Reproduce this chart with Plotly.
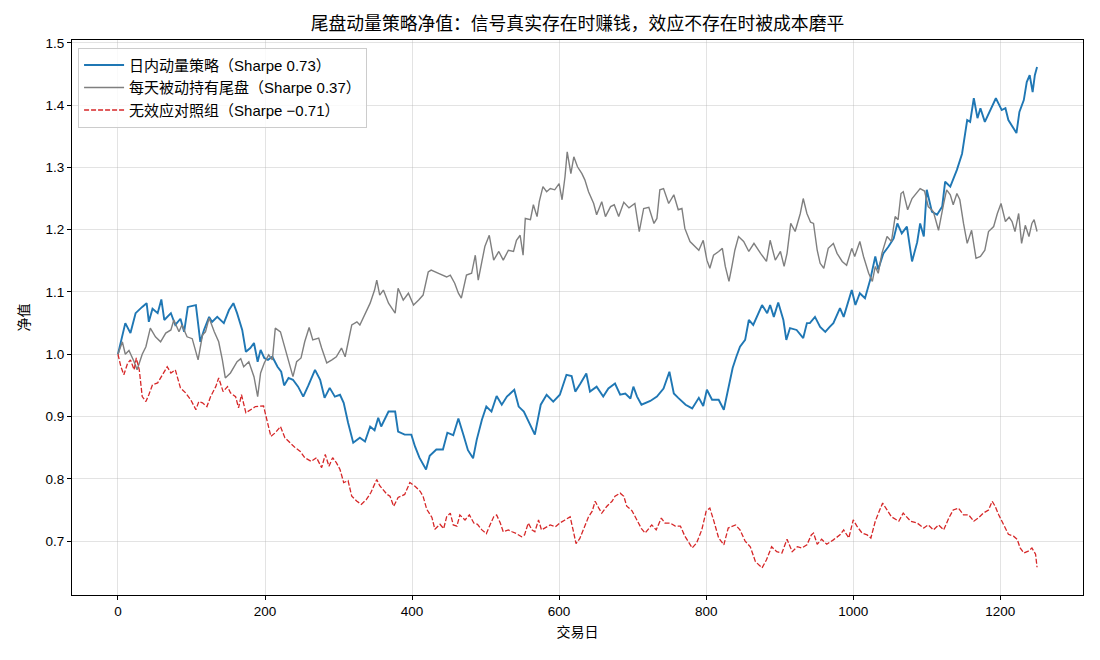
import plotly.graph_objects as go

# ---------------- data ----------------
blue_days = [0, 10, 17, 24, 33, 39, 42, 47, 54, 59, 63, 72, 78, 85, 90, 95, 106, 112, 117, 124, 128, 135, 144, 151, 157, 162, 169, 174, 180, 185, 190, 194, 199, 204, 210, 217, 222, 226, 232, 238, 245, 252, 259, 268, 275, 281, 288, 295, 302, 307, 313, 320, 329, 336, 343, 349, 354, 358, 368, 377, 381, 390, 399, 404, 410, 419, 424, 433, 442, 448, 456, 463, 470, 476, 483, 488, 495, 501, 508, 515, 522, 529, 539, 545, 552, 559, 567, 571, 575, 583, 592, 601, 610, 617, 622, 629, 637, 642, 651, 660, 667, 676, 683, 690, 697, 701, 706, 712, 724, 733, 742, 750, 756, 762, 772, 781, 790, 796, 801, 808, 817, 824, 830, 836, 841, 846, 853, 858, 864, 869, 876, 883, 887, 892, 898, 905, 909, 914, 923, 932, 937, 941, 948, 955, 962, 968, 973, 982, 987, 998, 1003, 1009, 1016, 1023, 1030, 1034, 1041, 1048, 1055, 1060, 1066, 1073, 1080, 1087, 1091, 1096, 1100, 1107, 1114, 1121, 1125, 1132, 1141, 1148, 1155, 1159, 1164, 1169, 1173, 1179, 1186, 1194, 1202, 1207, 1211, 1217, 1222, 1226, 1232, 1236, 1240, 1244, 1247, 1250]
blue_nav = [1.000, 1.050, 1.034, 1.066, 1.076, 1.082, 1.052, 1.073, 1.066, 1.088, 1.055, 1.066, 1.047, 1.057, 1.036, 1.076, 1.079, 1.020, 1.039, 1.060, 1.052, 1.060, 1.050, 1.071, 1.082, 1.066, 1.039, 1.004, 1.010, 1.018, 0.988, 1.007, 0.994, 0.991, 0.996, 0.980, 0.972, 0.950, 0.962, 0.959, 0.948, 0.932, 0.950, 0.975, 0.959, 0.930, 0.946, 0.932, 0.935, 0.922, 0.890, 0.858, 0.866, 0.860, 0.884, 0.878, 0.898, 0.884, 0.908, 0.908, 0.876, 0.871, 0.871, 0.852, 0.834, 0.815, 0.837, 0.847, 0.847, 0.874, 0.870, 0.897, 0.870, 0.846, 0.833, 0.863, 0.895, 0.916, 0.908, 0.933, 0.919, 0.932, 0.943, 0.916, 0.908, 0.890, 0.871, 0.895, 0.919, 0.935, 0.924, 0.935, 0.967, 0.965, 0.940, 0.953, 0.969, 0.940, 0.948, 0.932, 0.945, 0.953, 0.935, 0.937, 0.929, 0.948, 0.932, 0.919, 0.925, 0.932, 0.945, 0.972, 0.937, 0.930, 0.919, 0.913, 0.930, 0.917, 0.943, 0.927, 0.927, 0.911, 0.943, 0.978, 0.996, 1.012, 1.023, 1.055, 1.047, 1.060, 1.079, 1.066, 1.079, 1.060, 1.083, 1.055, 1.023, 1.042, 1.039, 1.026, 1.050, 1.050, 1.060, 1.044, 1.036, 1.044, 1.050, 1.074, 1.060, 1.103, 1.079, 1.098, 1.090, 1.119, 1.157, 1.136, 1.162, 1.173, 1.186, 1.210, 1.194, 1.205, 1.149, 1.180, 1.210, 1.189, 1.264, 1.229, 1.224, 1.237, 1.277, 1.269, 1.296, 1.322, 1.376, 1.373, 1.411, 1.379, 1.395, 1.373, 1.392, 1.411, 1.392, 1.395, 1.376, 1.365, 1.355, 1.389, 1.408, 1.437, 1.448, 1.421, 1.448, 1.461]

gray_days = [0, 6, 10, 15, 22, 26, 33, 38, 44, 51, 58, 65, 72, 76, 83, 87, 94, 101, 109, 115, 119, 124, 131, 137, 142, 146, 153, 162, 167, 171, 178, 185, 190, 194, 199, 205, 210, 214, 221, 227, 231, 238, 243, 249, 254, 260, 265, 273, 277, 284, 291, 297, 304, 309, 318, 325, 329, 336, 343, 349, 352, 356, 361, 368, 377, 381, 388, 395, 402, 409, 415, 422, 426, 436, 447, 452, 458, 463, 467, 474, 481, 486, 490, 495, 499, 505, 511, 518, 524, 531, 538, 542, 547, 551, 554, 561, 565, 570, 573, 578, 583, 588, 594, 600, 604, 608, 611, 616, 620, 625, 631, 635, 640, 647, 651, 658, 663, 670, 675, 681, 688, 695, 703, 709, 715, 722, 729, 733, 737, 742, 749, 756, 762, 767, 771, 778, 785, 790, 796, 801, 805, 810, 817, 822, 826, 831, 835, 839, 844, 851, 858, 865, 874, 882, 887, 894, 901, 906, 910, 915, 921, 928, 932, 937, 942, 946, 951, 955, 960, 966, 973, 978, 985, 991, 998, 1002, 1009, 1014, 1021, 1026, 1030, 1034, 1039, 1046, 1052, 1057, 1061, 1065, 1068, 1074, 1080, 1086, 1091, 1097, 1102, 1109, 1116, 1123, 1127, 1132, 1136, 1141, 1145, 1150, 1155, 1161, 1167, 1173, 1179, 1184, 1191, 1196, 1201, 1207, 1212, 1216, 1220, 1225, 1229, 1234, 1239, 1243, 1246, 1250]
gray_nav = [1.000, 1.020, 1.000, 1.006, 0.988, 0.975, 1.000, 1.012, 1.042, 1.028, 1.020, 1.034, 1.039, 1.055, 1.036, 1.047, 1.028, 1.025, 0.991, 1.031, 1.036, 1.058, 1.036, 1.020, 0.991, 0.962, 0.970, 0.988, 0.993, 0.980, 0.988, 0.964, 0.932, 0.970, 0.986, 0.999, 0.991, 1.042, 1.036, 1.012, 0.994, 0.964, 0.988, 0.994, 1.020, 1.043, 1.023, 1.026, 1.010, 0.986, 0.991, 0.996, 1.010, 0.996, 1.047, 1.052, 1.047, 1.066, 1.082, 1.103, 1.119, 1.095, 1.103, 1.082, 1.066, 1.106, 1.087, 1.098, 1.079, 1.087, 1.095, 1.132, 1.135, 1.130, 1.124, 1.127, 1.114, 1.098, 1.090, 1.127, 1.130, 1.159, 1.119, 1.149, 1.173, 1.191, 1.151, 1.165, 1.151, 1.167, 1.165, 1.183, 1.191, 1.159, 1.218, 1.216, 1.240, 1.221, 1.245, 1.269, 1.261, 1.266, 1.264, 1.274, 1.248, 1.285, 1.325, 1.290, 1.317, 1.301, 1.290, 1.280, 1.261, 1.242, 1.224, 1.245, 1.221, 1.237, 1.240, 1.221, 1.244, 1.235, 1.242, 1.197, 1.234, 1.236, 1.210, 1.218, 1.264, 1.266, 1.242, 1.256, 1.232, 1.234, 1.202, 1.181, 1.173, 1.167, 1.183, 1.151, 1.138, 1.159, 1.165, 1.170, 1.141, 1.117, 1.141, 1.167, 1.189, 1.181, 1.165, 1.178, 1.162, 1.149, 1.183, 1.151, 1.165, 1.141, 1.162, 1.210, 1.197, 1.226, 1.250, 1.226, 1.212, 1.210, 1.167, 1.146, 1.138, 1.170, 1.178, 1.162, 1.149, 1.143, 1.170, 1.157, 1.181, 1.157, 1.130, 1.117, 1.141, 1.130, 1.162, 1.189, 1.181, 1.221, 1.216, 1.258, 1.261, 1.232, 1.250, 1.258, 1.266, 1.262, 1.237, 1.229, 1.199, 1.242, 1.264, 1.256, 1.240, 1.258, 1.248, 1.210, 1.178, 1.199, 1.154, 1.157, 1.167, 1.197, 1.205, 1.226, 1.242, 1.213, 1.220, 1.213, 1.197, 1.226, 1.178, 1.207, 1.189, 1.210, 1.216, 1.197]

red_days = [0, 4, 8, 13, 17, 22, 25, 29, 33, 38, 42, 47, 54, 60, 67, 72, 78, 85, 92, 99, 106, 110, 115, 121, 126, 133, 137, 143, 149, 153, 160, 164, 168, 174, 180, 187, 198, 203, 208, 214, 221, 227, 234, 241, 248, 254, 263, 270, 277, 282, 287, 292, 297, 302, 307, 313, 318, 325, 331, 338, 344, 348, 352, 356, 366, 370, 375, 381, 390, 397, 404, 411, 415, 420, 427, 431, 438, 443, 447, 452, 456, 461, 465, 472, 478, 484, 489, 495, 501, 506, 511, 515, 520, 524, 531, 536, 542, 549, 553, 558, 563, 567, 572, 576, 581, 588, 595, 601, 608, 615, 619, 623, 628, 633, 640, 645, 649, 654, 658, 665, 672, 676, 683, 688, 692, 699, 706, 712, 717, 726, 732, 739, 744, 751, 758, 765, 771, 781, 787, 794, 800, 805, 810, 817, 824, 830, 840, 846, 853, 860, 867, 876, 882, 889, 896, 903, 910, 917, 924, 930, 937, 943, 946, 951, 957, 964, 973, 982, 987, 994, 1000, 1005, 1012, 1019, 1024, 1030, 1036, 1040, 1046, 1052, 1062, 1068, 1078, 1087, 1096, 1102, 1109, 1116, 1123, 1130, 1136, 1143, 1150, 1157, 1164, 1170, 1177, 1184, 1189, 1193, 1198, 1205, 1211, 1218, 1223, 1227, 1232, 1238, 1243, 1248, 1250]
red_nav = [1.000, 0.980, 0.967, 0.985, 0.991, 0.975, 0.994, 0.975, 0.932, 0.924, 0.935, 0.951, 0.954, 0.967, 0.980, 0.970, 0.975, 0.946, 0.938, 0.927, 0.911, 0.924, 0.922, 0.916, 0.932, 0.948, 0.962, 0.940, 0.948, 0.938, 0.932, 0.914, 0.935, 0.906, 0.911, 0.916, 0.917, 0.892, 0.868, 0.874, 0.884, 0.866, 0.858, 0.850, 0.844, 0.834, 0.828, 0.834, 0.818, 0.839, 0.820, 0.834, 0.826, 0.815, 0.794, 0.797, 0.772, 0.764, 0.759, 0.767, 0.778, 0.789, 0.799, 0.789, 0.775, 0.772, 0.756, 0.770, 0.775, 0.794, 0.788, 0.780, 0.772, 0.751, 0.738, 0.719, 0.727, 0.720, 0.739, 0.745, 0.726, 0.724, 0.742, 0.734, 0.742, 0.729, 0.727, 0.718, 0.712, 0.726, 0.739, 0.742, 0.729, 0.715, 0.718, 0.715, 0.712, 0.707, 0.710, 0.729, 0.718, 0.715, 0.734, 0.718, 0.721, 0.726, 0.723, 0.729, 0.734, 0.739, 0.718, 0.696, 0.704, 0.720, 0.739, 0.748, 0.764, 0.753, 0.745, 0.756, 0.764, 0.772, 0.777, 0.772, 0.756, 0.749, 0.732, 0.720, 0.713, 0.726, 0.718, 0.737, 0.729, 0.729, 0.724, 0.724, 0.708, 0.689, 0.697, 0.718, 0.748, 0.753, 0.734, 0.705, 0.694, 0.721, 0.726, 0.718, 0.700, 0.691, 0.667, 0.657, 0.670, 0.691, 0.683, 0.681, 0.703, 0.683, 0.691, 0.689, 0.694, 0.710, 0.713, 0.695, 0.703, 0.695, 0.702, 0.710, 0.718, 0.705, 0.734, 0.724, 0.713, 0.710, 0.705, 0.732, 0.750, 0.761, 0.750, 0.739, 0.732, 0.745, 0.732, 0.729, 0.721, 0.726, 0.718, 0.726, 0.718, 0.737, 0.750, 0.753, 0.742, 0.742, 0.732, 0.737, 0.745, 0.750, 0.764, 0.756, 0.742, 0.726, 0.711, 0.708, 0.703, 0.689, 0.681, 0.684, 0.689, 0.679, 0.658]

series_names = ["日内动量策略（Sharpe 0.73）", "每天被动持有尾盘（Sharpe 0.37）", "无效应对照组（Sharpe −0.71）"]
x_ticks = [0, 200, 400, 600, 800, 1000, 1200]
y_ticks = [0.7, 0.8, 0.9, 1.0, 1.1, 1.2, 1.3, 1.4, 1.5]
title_text = "尾盘动量策略净值：信号真实存在时赚钱，效应不存在时被成本磨平"
x_label = "交易日"
y_label = "净值"

FONT = "Liberation Sans, Noto Sans CJK SC, DejaVu Sans, sans-serif"

fig = go.Figure()
fig.add_trace(go.Scatter(x=blue_days, y=blue_nav, mode="lines", name=series_names[0],
                         line=dict(color="#1f77b4", width=1.9)))
fig.add_trace(go.Scatter(x=gray_days, y=gray_nav, mode="lines", name=series_names[1],
                         line=dict(color="#7f7f7f", width=1.4)))
fig.add_trace(go.Scatter(x=red_days, y=red_nav, mode="lines", name=series_names[2],
                         line=dict(color="#d62728", width=1.3, dash="5px,2px")))

axis_common = dict(
    showline=True, linecolor="black", linewidth=1, mirror=True,
    ticks="outside", ticklen=4, tickwidth=1, tickcolor="black",
    showgrid=True, gridcolor="rgba(176,176,176,0.35)", gridwidth=1,
    zeroline=False, tickfont=dict(family=FONT, size=13.5, color="black"),
)

fig.update_layout(
    width=1100, height=660,
    margin=dict(l=72, r=17, t=40, b=65),
    paper_bgcolor="white", plot_bgcolor="white",
    font=dict(family=FONT, color="black"),
    title=dict(text=title_text, x=577.5 / 1100, xref="container", xanchor="center",
               y=1 - 24 / 660, yref="container", yanchor="middle",
               font=dict(family=FONT, size=17.8, color="black")),
    xaxis=dict(range=[-62.5, 1312.5], tickvals=x_ticks,
               title=dict(text=x_label, font=dict(family=FONT, size=14), standoff=8),
               **axis_common),
    yaxis=dict(range=[0.6135, 1.5045], tickvals=y_ticks, tickformat=".1f",
               title=dict(text=y_label, font=dict(family=FONT, size=14), standoff=12),
               **axis_common),
    legend=dict(x=0.006, y=0.986, xanchor="left", yanchor="top",
                bgcolor="rgba(255,255,255,0.8)", bordercolor="#cccccc", borderwidth=1,
                font=dict(family=FONT, size=15, color="black"),
                itemwidth=40, tracegroupgap=0),
    showlegend=True,
)

fig.write_html("out.html")
